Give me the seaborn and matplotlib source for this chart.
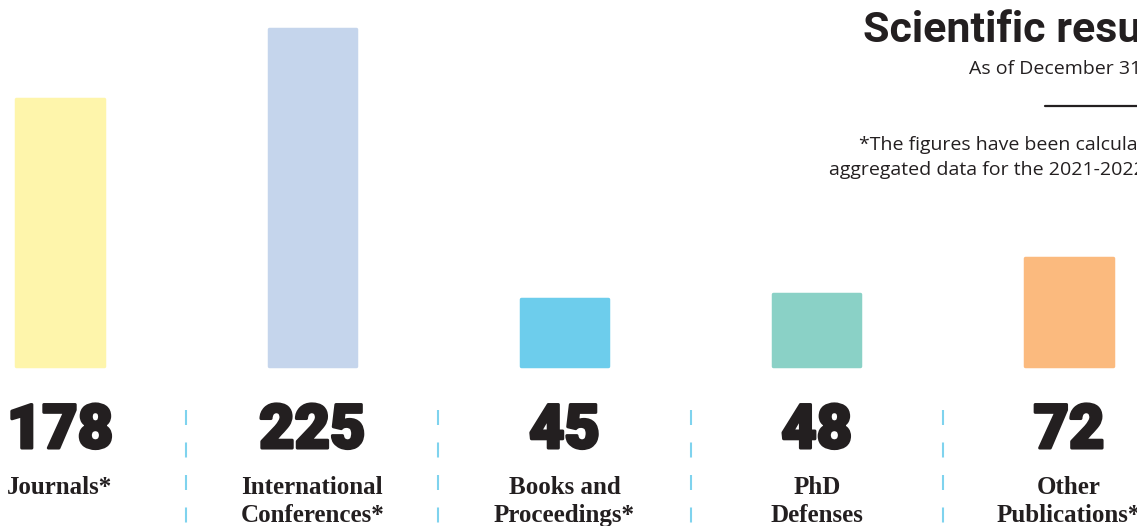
import seaborn
import pandas
import matplotlib.pyplot as pyplt
import matplotlib.patheffects as pe

# data
categories = ['Journals*', 'International\nConferences*', 'Books and\nProceedings*',
              'PhD\nDefenses', 'Other\nPublications*']
counts = [178, 225, 45, 48, 72]
bar_colors = ['#FEF5AB', '#C5D5EC', '#6DCDEC', '#8AD1C6', '#FBBA7E']

title = 'Scientific results'
subtitle = 'As of December 31, 2022'
footnote = ['*The figures have been calculated based on',
            'aggregated data for the 2021-2022 period']

DARK = '#231F20'
W, H = 1137, 526

seaborn.set_style('white')
fig = pyplt.figure(figsize=(W / 100, H / 100), dpi=100)
ax = fig.add_axes([0, 0, 1, 1])

data = pandas.DataFrame({'category': categories, 'count': counts})
seaborn.barplot(
    data=data,
    x='category',
    y='count',
    hue='category',
    palette=bar_colors,
    saturation=1,
    width=0.345,
    legend=False,
    ax=ax,
)
for patch, col in zip(ax.patches, bar_colors):
    patch.set_edgecolor(col)
    patch.set_linewidth(2.5)
    patch.set_joinstyle('round')

# pixel mapping: bar centres at 60 + 252.25*i, zero line at 366 px from top
step = 252.25
ax.set_xlim(-60 / step, (W - 60) / step)
ppu = 1.5
ax.set_ylim(-(H - 366) / ppu, 366 / ppu)
ax.set_axis_off()

xt = ax.get_xaxis_transform()
heavy = [pe.withStroke(linewidth=2.2, foreground=DARK)]
for i, (cat, n) in enumerate(zip(categories, counts)):
    ax.text(i, 1 - 431 / H, f'{n}', transform=xt, ha='center', va='center',
            fontsize=44, fontweight='black', family=['Roboto', 'DejaVu Sans'],
            color=DARK, path_effects=heavy)
    ax.text(i, 1 - 476 / H, cat, transform=xt, ha='center', va='top',
            fontsize=18, fontweight='bold', family=['Liberation Serif'],
            color=DARK, linespacing=1.3)

# dashed dividers between columns
for i in range(len(categories) - 1):
    ax.plot([i + 0.5, i + 0.5], [1 - 410 / H, 0], transform=xt,
            color='#7FD3EE', linewidth=1.5, dashes=(7.2, 8.4))

# header block (runs off the right edge like the reference)
sans = ['Open Sans', 'DejaVu Sans']
fig.text(863 / W, 1 - 31 / H, title, ha='left', va='center', fontsize=31,
         fontweight='bold', family=['Roboto', 'DejaVu Sans'], color=DARK)
fig.text(969 / W, 1 - 69 / H, subtitle, ha='left', va='center', fontsize=14,
         family=sans, color=DARK)
fig.add_artist(pyplt.Line2D([1045 / W, 1], [1 - 106 / H, 1 - 106 / H],
                            color=DARK, linewidth=1.6))
fig.text(859 / W, 1 - 145 / H, footnote[0], ha='left', va='center',
         fontsize=14, family=sans, color=DARK)
fig.text(829 / W, 1 - 170 / H, footnote[1], ha='left', va='center',
         fontsize=14, family=sans, color=DARK)

fig.savefig('out.png', dpi=100)
